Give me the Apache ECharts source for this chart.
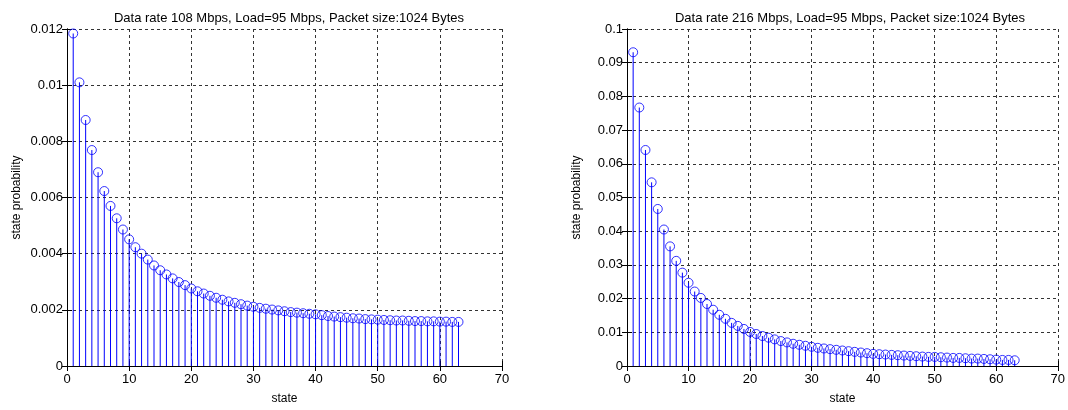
<!DOCTYPE html>
<html>
<head>
<meta charset="utf-8">
<script src="https://cdn.jsdelivr.net/npm/echarts@6/dist/echarts.min.js"></script>
<style>
    html, body { margin: 0; padding: 0; background: #fff; }
    #chart { width: 1068px; height: 410px; }
</style>
</head>
<body>
<div id="chart"></div>
<script>
// Data
const states = [];
for (let s = 1; s <= 63; s++) states.push(s);

const titleLeft = 'Data rate 108 Mbps, Load=95 Mbps, Packet size:1024 Bytes';
const titleRight = 'Data rate 216 Mbps, Load=95 Mbps, Packet size:1024 Bytes';

// state probability, 108 Mbps
const probLeft = [
    0.01184, 0.01010, 0.00876, 0.00769, 0.00690, 0.00623, 0.00570, 0.00526, 0.00486, 0.00451,
    0.00423, 0.00400, 0.00379, 0.00358, 0.00341, 0.00326, 0.00312, 0.00299, 0.00288, 0.00276,
    0.00266, 0.00258, 0.00250, 0.00243, 0.00236, 0.00230, 0.00225, 0.00220, 0.00215, 0.00211,
    0.00207, 0.00204, 0.00201, 0.00198, 0.00195, 0.00192, 0.00190, 0.00188, 0.00186, 0.00184,
    0.00181, 0.00178, 0.00176, 0.00174, 0.00172, 0.00170, 0.00169, 0.00167, 0.00166, 0.00165,
    0.00164, 0.00163, 0.00162, 0.00162, 0.00161, 0.00160, 0.00160, 0.00159, 0.00159, 0.00158,
    0.00158, 0.00157, 0.00157
];

// state probability, 216 Mbps
const probRight = [
    0.0931, 0.0767, 0.0641, 0.0545, 0.0466, 0.0405, 0.0355, 0.0312, 0.0277, 0.0247,
    0.0221, 0.0202, 0.0184, 0.0167, 0.0152, 0.0140, 0.0128, 0.0119, 0.0110, 0.0101,
    0.0095, 0.0089, 0.0084, 0.0079, 0.0074, 0.0070, 0.0066, 0.0063, 0.0060, 0.0057,
    0.0054, 0.0052, 0.0050, 0.0048, 0.0046, 0.0044, 0.0042, 0.0040, 0.0038, 0.0036,
    0.0035, 0.0034, 0.0033, 0.0032, 0.0031, 0.0030, 0.0029, 0.0028, 0.0027, 0.0027,
    0.0026, 0.0025, 0.0024, 0.0024, 0.0023, 0.0022, 0.0022, 0.0021, 0.0020, 0.0019,
    0.0018, 0.0018, 0.0017
];

const FONT = '"Liberation Sans", Arial, sans-serif';
const BLUE = '#0000ff';

const chart = echarts.init(document.getElementById('chart'), null, { renderer: 'canvas' });

function makeXAxes(gridIndex) {
    const base = {
        gridIndex: gridIndex,
        type: 'value',
        min: 0,
        max: 70,
        interval: 10,
        axisLine: { show: true, lineStyle: { color: '#000', width: 1 } },
        axisTick: { show: true, inside: true, length: 5, lineStyle: { color: '#000' } }
    };
    return [
        Object.assign({}, base, {
            position: 'bottom',
            name: 'state',
            nameLocation: 'middle',
            nameGap: 27,
            nameTextStyle: { color: '#000', fontFamily: FONT, fontSize: 12 },
            axisLabel: { color: '#000', fontFamily: FONT, fontSize: 13, margin: 7 },
            splitLine: { show: true, lineStyle: { color: '#333', type: [3, 3], width: 1 } }
        }),
        Object.assign({}, base, {
            position: 'top',
            axisLabel: { show: false },
            splitLine: { show: false }
        })
    ];
}

function makeYAxes(gridIndex, max, interval, labelFmt) {
    const base = {
        gridIndex: gridIndex,
        type: 'value',
        min: 0,
        max: max,
        interval: interval,
        axisLine: { show: true, lineStyle: { color: '#000', width: 1 } },
        axisTick: { show: true, inside: true, length: 5, lineStyle: { color: '#000' } }
    };
    return [
        Object.assign({}, base, {
            position: 'left',
            name: 'state probability',
            nameLocation: 'middle',
            nameGap: 44,
            nameTextStyle: { color: '#000', fontFamily: FONT, fontSize: 12 },
            axisLabel: { color: '#000', fontFamily: FONT, fontSize: 13, margin: 4, formatter: labelFmt },
            splitLine: { show: true, lineStyle: { color: '#333', type: [3, 3], width: 1 } }
        }),
        Object.assign({}, base, {
            position: 'right',
            axisLabel: { show: false },
            splitLine: { show: false }
        })
    ];
}

function fmt(v) {
    if (v === 0) return '0';
    return String(parseFloat(v.toFixed(4)));
}

// stem line from the baseline up to the value
function renderStem(params, api) {
    const base = api.coord([api.value(0), 0]);
    const top = api.coord([api.value(0), api.value(1)]);
    return {
        type: 'line',
        shape: { x1: base[0], y1: base[1], x2: top[0], y2: top[1] },
        style: { stroke: BLUE, lineWidth: 1 }
    };
}

function stemSeries(xIdx, yIdx, values) {
    const pts = values.map((v, i) => [states[i], v]);
    return [
        {
            type: 'custom',
            xAxisIndex: xIdx,
            yAxisIndex: yIdx,
            renderItem: renderStem,
            silent: true,
            animation: false,
            data: pts
        },
        {
            type: 'scatter',
            xAxisIndex: xIdx,
            yAxisIndex: yIdx,
            symbol: 'circle',
            symbolSize: 9,
            itemStyle: { color: 'rgba(0,0,0,0)', borderColor: BLUE, borderWidth: 1 },
            silent: true,
            animation: false,
            z: 3,
            data: pts
        }
    ];
}

const option = {
    backgroundColor: '#fff',
    animation: false,
    title: [
        { text: titleLeft, left: 284, top: 7, textAlign: 'center',
          textStyle: { fontFamily: FONT, fontSize: 13, fontWeight: 'normal', color: '#000' } },
        { text: titleRight, left: 845, top: 7, textAlign: 'center',
          textStyle: { fontFamily: FONT, fontSize: 13, fontWeight: 'normal', color: '#000' } }
    ],
    grid: [
        { left: 67, top: 29, width: 435, height: 344 },
        { left: 627, top: 29, width: 436, height: 344 }
    ],
    xAxis: makeXAxes(0).concat(makeXAxes(1)),
    yAxis: makeYAxes(0, 0.012, 0.002, fmt).concat(makeYAxes(1, 0.1, 0.01, fmt)),
    series: stemSeries(0, 0, probLeft).concat(stemSeries(2, 2, probRight))
};

chart.setOption(option);
</script>
</body>
</html>
